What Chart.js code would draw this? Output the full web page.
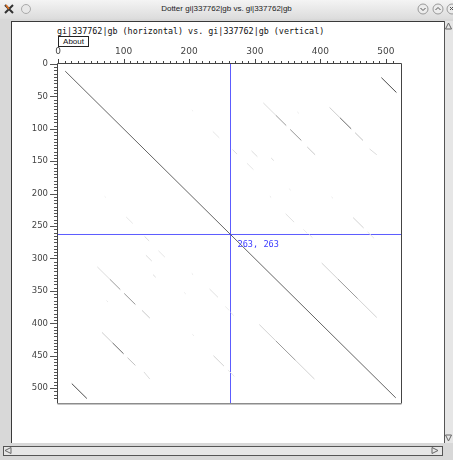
<!DOCTYPE html>
<html><head><meta charset="utf-8">
<script src="https://cdn.jsdelivr.net/npm/chart.js@4.4.1/dist/chart.umd.min.js"></script>
<style>
html,body{margin:0;padding:0;width:453px;height:460px;overflow:hidden;background:#d8d8d8;font-family:"Liberation Sans",sans-serif;}
#titlebar{position:absolute;left:0;top:0;width:453px;height:19px;background:linear-gradient(#f4f4f4,#dcdcdc);}
#title{position:absolute;left:0;width:453px;top:4px;text-align:center;font-size:8px;color:#222;line-height:10px;}
#content{position:absolute;left:11px;top:21px;width:432px;height:421px;background:#fff;border-left:1px solid #3a3a3a;border-top:1px solid #3a3a3a;}
#vscroll{position:absolute;left:444px;top:21px;width:8px;height:422px;background:#e6e6e6;border-left:1px solid #555;border-right:1px solid #999;}
#hscroll{position:absolute;left:3px;top:446px;width:438px;height:8px;background:#e6e6e6;border:1px solid #555;}
#header{position:absolute;left:57px;top:26px;font-family:"DejaVu Sans Mono",monospace;font-size:8.4px;line-height:10px;color:#111;white-space:pre;}
#about{position:absolute;left:58px;top:36px;width:29px;height:9px;border:1px solid #222;font-size:8px;line-height:9px;text-align:center;color:#111;background:#fff;}
svg.chrome{position:absolute;}
canvas{position:absolute;left:0;top:0;z-index:5;}
</style></head>
<body>
<div id="titlebar"><div id="title">Dotter gi|337762|gb vs. gi|337762|gb</div></div>
<svg class="chrome" style="left:0;top:0" width="453" height="19">
  <path d="M5 5 L13 13 M13 5 L5 13" stroke="#333" stroke-width="2"/>
  <path d="M6 5 L9 9" stroke="#e07020" stroke-width="1.5"/>
  <circle cx="26" cy="9" r="4.5" fill="#e8e8e8" stroke="#aaa"/>
  <circle cx="423" cy="9" r="5" fill="#ececec" stroke="#999"/>
  <path d="M420.5 8 L423 10.5 L425.5 8" fill="none" stroke="#555"/>
  <circle cx="438" cy="9" r="5" fill="#ececec" stroke="#999"/>
  <path d="M435.5 10 L438 7.5 L440.5 10" fill="none" stroke="#555"/>
  <circle cx="452" cy="9" r="5" fill="#ececec" stroke="#999"/>
  <path d="M450 7 L453 10 M453 7 L450 10" stroke="#555"/>
</svg>
<div id="content"></div>
<div id="vscroll"></div>
<div id="hscroll"></div>
<svg class="chrome" style="left:0;top:0;z-index:3" width="453" height="460">
  <path d="M445.5 23 L448.5 29 L451.5 23 Z" fill="none" stroke="#666" transform="rotate(180 448.5 26)"/>
  <path d="M445.5 435 L448.5 441 L451.5 435 Z" fill="none" stroke="#666"/>
  <path d="M11 447.5 L5 450.5 L11 453.5 Z" fill="none" stroke="#666"/>
  <path d="M432 447.5 L438 450.5 L432 453.5 Z" fill="none" stroke="#666"/>
</svg>
<div id="header">gi|337762|gb (horizontal) vs. gi|337762|gb (vertical)</div>
<div id="about">About</div>
<canvas id="c" width="453" height="460"></canvas>
<script>
// Sequence extent (residues) and axis ticks
const seqLength = 524;
const xTickStep = 10, xLabelStep = 100;
const yTickStep = 5, yLabelStep = 50;

// Dot-plot match segments (start/end residue in horizontal & vertical sequence) with score intensity (0-100)
const segX1 = [11, 493, 21, 313, 332, 354, 60, 79, 101, 380, 128, 414, 430, 453, 475, 67, 83, 106, 131, 365, 74, 266, 132, 295, 134, 325, 145, 288, 153, 323, 204, 417, 205, 347, 231, 450, 237, 472, 259, 352, 192, 236, 104, 204, 71, 402, 427, 457, 307, 332, 362, 383, 263, 374, 255];
const segY1 = [11, 21, 493, 60, 79, 101, 313, 332, 354, 128, 380, 67, 83, 106, 131, 414, 430, 453, 475, 74, 365, 132, 266, 134, 295, 145, 325, 153, 288, 204, 323, 205, 417, 231, 347, 237, 450, 259, 472, 192, 352, 104, 236, 71, 204, 307, 332, 362, 402, 427, 457, 263, 383, 255, 374];
const segX2 = [515, 516, 44, 332, 348, 371, 79, 95, 118, 392, 140, 430, 447, 465, 486, 83, 100, 118, 140, 367, 76, 273, 139, 304, 143, 329, 149, 298, 163, 325, 206, 419, 207, 360, 244, 466, 253, 482, 269, 355, 195, 246, 114, 206, 73, 427, 457, 486, 332, 362, 391, 388, 268, 380, 261];
const segY2 = [515, 44, 516, 79, 95, 118, 332, 348, 371, 140, 392, 83, 100, 118, 140, 430, 447, 465, 486, 76, 367, 139, 273, 143, 304, 149, 329, 163, 298, 206, 325, 207, 419, 244, 360, 253, 466, 269, 482, 195, 355, 114, 246, 73, 206, 332, 362, 391, 427, 457, 486, 268, 388, 261, 380];
const segScore = [62, 72, 72, 14, 40, 42, 14, 40, 42, 22, 22, 20, 60, 25, 14, 20, 60, 25, 14, 10, 10, 14, 14, 14, 14, 14, 14, 10, 10, 10, 10, 10, 10, 12, 12, 18, 18, 10, 10, 7, 7, 10, 10, 7, 7, 18, 40, 18, 18, 40, 18, 10, 10, 8, 8];

// Cursor (crosshair) position
const crossX = [263];
const crossY = [263];

const datasets = segX1.map((x1, i) => {
  const g = Math.round(255 - segScore[i] * 2.5);
  return {
    data: [{x: x1, y: segY1[i]}, {x: segX2[i], y: segY2[i]}],
    showLine: true, pointRadius: 0, borderWidth: 1,
    borderColor: `rgb(${g},${g},${g})`
  };
});
const blue = 'rgb(92,92,255)';
datasets.push({data: [{x: crossX[0], y: 0}, {x: crossX[0], y: seqLength}], showLine: true, pointRadius: 0, borderWidth: 1, borderColor: blue});
datasets.push({data: [{x: 0, y: crossY[0]}, {x: seqLength, y: crossY[0]}], showLine: true, pointRadius: 0, borderWidth: 1, borderColor: blue});

const framePlugin = {
  id: 'frame',
  afterDraw(chart) {
    const {ctx, chartArea: a, scales: {x, y}} = chart;
    ctx.save();
    ctx.lineWidth = 1;
    ctx.strokeStyle = '#444';
    ctx.beginPath();
    x.ticks.forEach(t => {
      if (t.value % xTickStep !== 0) return;
      const px = Math.round(x.getPixelForValue(t.value)) + 0.5;
      const len = t.value % xLabelStep === 0 ? 5 : 3;
      ctx.moveTo(px, a.top); ctx.lineTo(px, a.top - len);
    });
    ctx.stroke();
    ctx.strokeStyle = '#555';
    ctx.beginPath();
    y.ticks.forEach(t => {
      if (t.value % yTickStep !== 0) return;
      const py = Math.round(y.getPixelForValue(t.value)) + 0.5;
      const len = t.value % yLabelStep === 0 ? 8 : 4;
      ctx.moveTo(a.left, py); ctx.lineTo(a.left - len, py);
    });
    ctx.stroke();
    // frame
    const L = Math.round(a.left) - 0.5, T = Math.round(a.top) - 0.5, R = Math.round(a.right) - 0.5, B = Math.round(a.bottom) - 0.5;
    ctx.strokeStyle = '#444';
    ctx.beginPath();
    ctx.moveTo(L, B); ctx.lineTo(L, T); ctx.lineTo(R, T); ctx.lineTo(R, B);
    ctx.stroke();
    ctx.strokeStyle = '#8c8c8c';
    ctx.lineWidth = 1.5;
    ctx.beginPath(); ctx.moveTo(L, B + 0.25); ctx.lineTo(R, B + 0.25); ctx.stroke();
    // cursor label
    const cx = x.getPixelForValue(crossX[0]), cy = y.getPixelForValue(crossY[0]);
    ctx.fillStyle = 'rgb(60,60,255)';
    ctx.font = '8.6px "DejaVu Sans Mono", monospace';
    ctx.textBaseline = 'middle';
    ctx.textAlign = 'left';
    ctx.fillText(`${crossX[0]}, ${crossY[0]}`, cx + 7, cy + 10);
    ctx.restore();
  }
};

new Chart(document.getElementById('c'), {
  type: 'scatter',
  data: {datasets},
  options: {
    responsive: false, animation: false, devicePixelRatio: 1,
    layout: {padding: {left: 18, top: 34, right: 51.3, bottom: 56.3}},
    plugins: {legend: {display: false}, tooltip: {enabled: false}},
    scales: {
      x: {
        type: 'linear', position: 'top', min: 0, max: seqLength,
        grid: {display: false, drawTicks: false}, border: {display: false},
        ticks: {stepSize: xTickStep, autoSkip: false, maxRotation: 0, padding: 7, color: '#444',
          font: {family: 'DejaVu Sans', size: 9},
          callback: v => (v % xLabelStep === 0 ? String(v) : '')},
        afterFit: s => { s.height = 30; }
      },
      y: {
        type: 'linear', reverse: true, min: 0, max: seqLength,
        grid: {display: false, drawTicks: false}, border: {display: false},
        ticks: {stepSize: yTickStep, autoSkip: false, padding: 10, color: '#444',
          font: {family: 'DejaVu Sans', size: 8.5},
          callback: v => (v % yLabelStep === 0 ? String(v) : '')},
        afterFit: s => { s.width = 40; }
      }
    }
  },
  plugins: [framePlugin]
});
</script>
</body></html>
